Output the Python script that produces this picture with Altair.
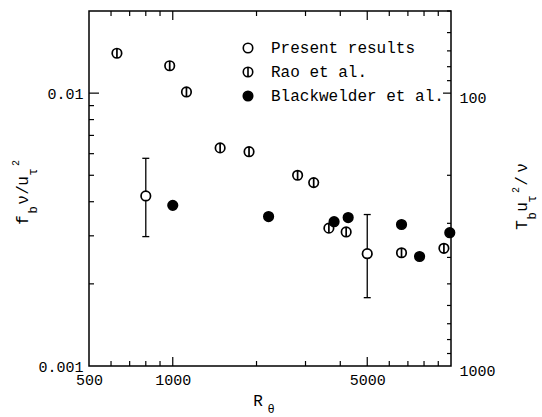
import altair as alt
import pandas as pd

# ---------------- data ----------------
series_names = ["Present results", "Rao et al.", "Blackwelder et al."]

present_re = [800, 5000]
present_f = [0.00420, 0.00258]
present_lo = [0.00298, 0.00178]
present_hi = [0.00577, 0.00359]

rao_re = [630, 975, 1120, 1480, 1880, 2810, 3210, 3640, 4200, 6640, 9430]
rao_f = [0.0140, 0.0126, 0.0101, 0.0063, 0.0061, 0.0050, 0.0047, 0.0032, 0.0031, 0.0026, 0.0027]

bw_re = [1000, 2210, 3800, 4270, 6640, 7710, 9900]
bw_f = [0.00388, 0.00353, 0.00338, 0.00350, 0.00330, 0.00252, 0.00308]

# axis labels / ticks
x_label_values = [500, 1000, 5000]
y_label_values = [0.001, 0.01]
t_label_values = [100, 1000]
x_minor = [600, 700, 800, 900, 2000, 3000, 4000, 6000, 7000, 8000, 9000]
x_major = [1000, 5000]
y_minor = [0.002, 0.003, 0.004, 0.005, 0.006, 0.007, 0.008, 0.009]
y_major = [0.01]
t_minor = [50, 60, 70, 80, 90, 200, 300, 400, 500, 600, 700, 800, 900]
t_major = [100]

# ---------------- layout ----------------
W, H = 362, 355
PL, PT = 89, 11
FONT = "Liberation Mono"

xs = alt.Scale(type="log", domain=[500, 10000], nice=False)
ys = alt.Scale(type="log", domain=[0.001, 0.02], nice=False)
ts = alt.Scale(type="log", domain=[50, 1000], nice=False, reverse=True)

XAXIS = alt.Axis(values=x_label_values, format="d", title=None, labelPadding=6,
                 tickSize=0, labelAlign="center")
YAXIS = alt.Axis(values=y_label_values, format=".3~f", title=None, labelPadding=6,
                 tickSize=0)

RAO_PATH = "M-1,0A1,1,0,1,1,1,0A1,1,0,1,1,-1,0ZM0,-1L0,1"

pts = pd.concat([
    pd.DataFrame({"re": present_re, "f": present_f, "series": series_names[0]}),
    pd.DataFrame({"re": rao_re, "f": rao_f, "series": series_names[1]}),
    pd.DataFrame({"re": bw_re, "f": bw_f, "series": series_names[2]}),
], ignore_index=True)

err = pd.DataFrame({"re": present_re, "f": present_lo, "hi": present_hi})
caps = pd.concat([
    pd.DataFrame({"re": present_re, "f": present_lo}),
    pd.DataFrame({"re": present_re, "f": present_hi}),
], ignore_index=True)

legend = alt.Legend(
    title=None, orient="none", legendX=151, legendY=29, padding=0,
    labelFont=FONT, labelFontSize=16, labelColor="black", labelOffset=15,
    labelLimit=0, symbolSize=90, symbolStrokeWidth=1.6, rowPadding=8,
)

points = alt.Chart(pts).mark_point(
    filled=True, strokeWidth=1.7, size=90, opacity=1
).encode(
    x=alt.X("re:Q", scale=xs, axis=XAXIS),
    y=alt.Y("f:Q", scale=ys, axis=YAXIS),
    shape=alt.Shape("series:N", scale=alt.Scale(domain=series_names,
                    range=["circle", RAO_PATH, "circle"]), legend=legend),
    fill=alt.Fill("series:N", scale=alt.Scale(domain=series_names,
                  range=["white", "white", "black"]), legend=legend),
    stroke=alt.Stroke("series:N", scale=alt.Scale(domain=series_names,
                      range=["black", "black", "black"]), legend=legend),
)

err_rule = alt.Chart(err).mark_rule(color="black", strokeWidth=1.3).encode(
    x=alt.X("re:Q", scale=xs, axis=XAXIS),
    y=alt.Y("f:Q", scale=ys, axis=YAXIS),
    y2="hi:Q",
)
err_caps = alt.Chart(caps).mark_tick(
    orient="horizontal", color="black", size=7, thickness=1.3, opacity=1
).encode(
    x=alt.X("re:Q", scale=xs, axis=XAXIS),
    y=alt.Y("f:Q", scale=ys, axis=YAXIS),
)


def xticks(vals, length, top):
    df = pd.DataFrame({"re": vals})
    y0, y1 = (0, length) if top else (H, H - length)
    return alt.Chart(df).mark_rule(color="black", strokeWidth=1.2).encode(
        x=alt.X("re:Q", scale=xs, axis=XAXIS),
        y=alt.value(y0), y2=alt.value(y1))


def yticks(vals, length):
    df = pd.DataFrame({"f": vals})
    return alt.Chart(df).mark_rule(color="black", strokeWidth=1.2).encode(
        y=alt.Y("f:Q", scale=ys, axis=YAXIS),
        x=alt.value(0), x2=alt.value(length))


def glyph(text, xa, ya, size, angle=0):
    kw = dict(text=text, font=FONT, fontSize=size, align="center",
              baseline="alphabetic", color="black")
    if angle:
        kw["angle"] = angle
    return alt.Chart().mark_text(**kw).encode(
        x=alt.value(xa - PL), y=alt.value(ya - PT))


titles = [
    # left title  f_b nu / u_tau^2
    glyph("f", 28, 220, 16, 270), glyph("b", 37, 210, 12, 270),
    glyph("ν", 28, 200, 16, 270), glyph("/", 28, 190, 16, 270),
    glyph("u", 28, 181, 16, 270), glyph("τ", 37, 172, 12, 270),
    glyph("2", 19, 163, 10, 270),
    # right title  T_b u_tau^2 / nu
    glyph("T", 527, 225, 16, 270), glyph("b", 536, 216, 12, 270),
    glyph("u", 527, 207, 16, 270), glyph("τ", 536, 199, 12, 270),
    glyph("2", 519, 190, 10, 270), glyph("/", 527, 181, 16, 270),
    glyph("ν", 527, 168, 16, 270),
    # bottom title R_theta
    glyph("R", 258, 406, 16), glyph("θ", 271, 413, 12),
]

main = alt.layer(
    err_rule, err_caps,
    xticks(x_minor, 5, False), xticks(x_major, 9, False),
    xticks(x_minor, 5, True), xticks(x_major, 9, True),
    yticks(y_minor, 5), yticks(y_major, 10),
    points, *titles,
)

TAXIS = alt.Axis(orient="right", values=t_label_values, format="d", title=None,
                 labelPadding=8, tickSize=0, labelOffset=4)
right_minor = alt.Chart(pd.DataFrame({"t": t_minor})).mark_rule(
    color="black", strokeWidth=1.2).encode(
    y=alt.Y("t:Q", scale=ts, axis=TAXIS),
    x=alt.value(W), x2=alt.value(W - 4))
right_major = alt.Chart(pd.DataFrame({"t": t_major})).mark_rule(
    color="black", strokeWidth=1.2).encode(
    y=alt.Y("t:Q", scale=ts, axis=TAXIS),
    x=alt.value(W), x2=alt.value(W - 8))

right = alt.layer(right_minor, right_major)

chart = alt.layer(main, right).resolve_scale(y="independent").properties(
    width=W, height=H,
    padding={"left": PL, "top": PT, "right": 542 - PL - W, "bottom": 417 - PT - H},
    autosize=alt.AutoSizeParams(type="none"),
).configure_view(stroke="black", strokeWidth=1.5).configure_axis(
    labelFont=FONT, labelFontSize=15, labelColor="black",
    domain=False, ticks=False, grid=False,
)

chart.save("out.html", embed_options={"renderer": "svg", "actions": False})
